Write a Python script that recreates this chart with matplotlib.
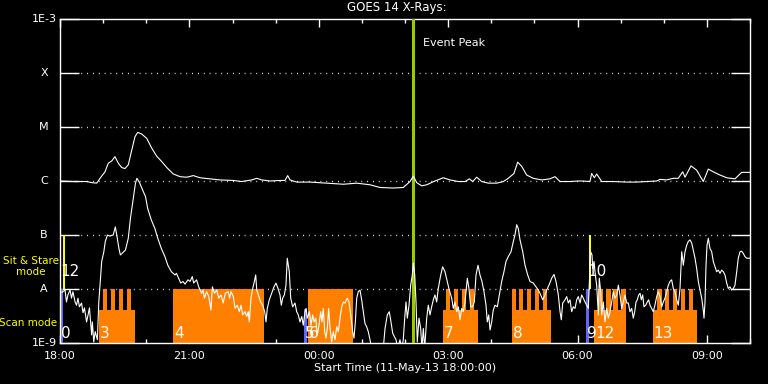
import numpy as np
import matplotlib
matplotlib.use("Agg")
import matplotlib.pyplot as plt
import matplotlib.transforms as mtransforms

# time in minutes after 11-May-13 18:00, flux as log10(W/m^2)
long_t = [0, 18.5, 37.1, 44.1, 51.1, 55.7, 62.6, 67.2, 71.9, 76.5,
          81.1, 85.8, 90.4, 95, 99.8, 104.3, 108.1, 113.7, 120.6, 127.6,
          134.5, 141.5, 148.5, 157.6, 167, 176.3, 185.5, 194.8, 208.7, 222.6,
          241.1, 252.8, 266.7, 273.7, 280.6, 292.2, 306.1, 313, 316.8, 320,
          329.3, 347.8, 371.1, 394.2, 412.8, 431.3, 445.2, 463.7, 477.6, 487,
          491.6, 496.3, 503.2, 510.2, 521.7, 533.3, 542.6, 554.2, 563.5, 569.5,
          574.2, 579.8, 586.7, 595.9, 607.6, 616.8, 623.7, 631.6, 636.8, 642.4,
          649.3, 658.5, 670.2, 681.7, 688.7, 695.7, 709.6, 721.1, 725.8, 737.4,
          739.7, 743.4, 746.7, 753.7, 769.8, 788.5, 802.3, 816.3, 830.2, 834.8,
          844.1, 853.3, 860.2, 866.3, 869.6, 877.9, 885.8, 895, 902, 908.9,
          918.3, 927.6, 939.1, 948.4, 960]
long_f = [-6.00, -6.01, -6.01, -6.03, -6.04, -5.95, -5.83, -5.67, -5.63, -5.55,
          -5.67, -5.75, -5.77, -5.70, -5.43, -5.18, -5.10, -5.13, -5.21, -5.39,
          -5.54, -5.64, -5.75, -5.87, -5.92, -5.93, -5.90, -5.94, -5.96, -5.98,
          -5.99, -6.01, -5.98, -5.95, -5.98, -6.00, -5.99, -5.99, -5.90, -5.98,
          -6.02, -6.02, -6.04, -6.06, -6.04, -6.07, -6.12, -6.13, -6.12, -6.01,
          -5.91, -6.03, -6.09, -6.07, -6.00, -5.94, -5.98, -6.01, -6.01, -5.96,
          -6.01, -5.93, -6.01, -6.04, -6.04, -6.01, -5.95, -5.86, -5.65, -5.73,
          -5.89, -5.95, -5.98, -5.96, -5.92, -6.01, -6.01, -6.00, -6.00, -6.01,
          -5.86, -5.94, -5.87, -6.01, -6.01, -6.02, -6.02, -6.01, -6.00, -5.97,
          -5.98, -5.95, -5.95, -5.83, -5.93, -5.72, -5.80, -6.01, -5.78, -5.83,
          -5.89, -5.94, -5.96, -5.84, -5.84]

short_t = [3, 7, 9, 11, 14, 16, 18, 21, 23, 25,
           27, 30, 32, 34, 37, 39, 41, 44, 45, 47,
           49, 52, 54, 56, 58, 61, 63, 66, 69, 74,
           77, 79, 82, 84, 88, 91, 95, 98, 102, 105,
           107, 111, 116, 119, 122, 127, 132, 136, 141, 146,
           150, 155, 160, 162, 165, 168, 171, 174, 178, 181,
           184, 186, 190, 193, 197, 199, 201, 204, 207, 210,
           212, 215, 218, 221, 224, 227, 230, 234, 236, 238,
           241.1, 243.5, 246.7, 249.5, 251.8, 254.2, 257.4, 259.8, 262, 263.4,
           265.7, 268.1, 269.9, 272.3, 273.7, 275.9, 279.2, 282, 284.8, 286.6,
           288.4, 291.2, 294.5, 297.7, 300.5, 303.3, 306.1, 307.9, 309.8, 312.1,
           314.4, 316.2, 317.6, 319, 321, 323.7, 327, 329.3, 331.5, 333.9,
           336.3, 338.5, 340.9, 342.3, 344.1, 346.9, 349.2, 351.6, 353.4, 355.8,
           358, 360.3, 362.7, 364.5, 366.3, 368.3, 370.1, 371.9, 373.8, 375.7,
           378, 380.2, 382.6, 385, 387.2, 389.6, 391.9, 394.2, 396.5, 399.7,
           402.1, 404.5, 407.2, 409, 410.9, 412.8, 415, 417.4, 419.7, 422,
           424.3, 426.7, 428.9, 431.3, 433.7, 449.8, 452.2, 455.4, 458.1, 460.5,
           462.9, 465.1, 467.5, 469.8, 473, 475.4, 477.6, 479.6, 481.4, 483.2,
           485.6, 487.9, 490.2, 491.6, 493.5, 495.3, 497.1, 499.5, 501.8, 503.6,
           505.5, 507.4, 510.2, 512.4, 514.8, 517.1, 519.4, 521.7, 524.1, 526.3,
           529.7, 532.4, 535.6, 538.8, 541.6, 545, 547.2, 549.6, 551.9, 554.2,
           556.5, 558.9, 561.1, 563.5, 566.7, 569, 571.4, 574.2, 576.4, 578.8,
           581.6, 584.3, 587.1, 589.9, 592.7, 594.5, 596.5, 598.3, 600.6, 602.8,
           605.2, 608.4, 611.2, 614.5, 617.7, 620.5, 623.7, 627.5, 630.7, 633,
           635.4, 637.6, 640, 643.8, 647, 650.7, 653.9, 658.5, 662.3, 665.5,
           668.8, 671.6, 674.8, 677.1, 680.3, 684.1, 687.3, 690.1, 693.3, 695.7,
           697.5, 699.4, 702.6, 705, 707.2, 709.6, 711.9, 714.2, 716.5, 718.9,
           721.1, 723.5, 725.8, 728.1, 730.4, 732.8, 735, 736.4, 738.3, 740.2,
           741.2, 743, 744.8, 746.7, 749, 750.3, 752.3, 753.7, 755.9, 758.3,
           760.6, 762.9, 765.2, 767.6, 769.8, 772.2, 774.6, 776.8, 779.1, 781.5,
           783.7, 786.1, 788.5, 790.7, 793, 795.4, 797.6, 799.6, 801.4, 803.2,
           805.1, 807, 808.8, 810.7, 812.5, 814.9, 817.1, 819, 820.8, 823.2,
           825.4, 827.7, 830.2, 832.4, 834.8, 837.1, 839.4, 841.7, 844.1, 846.3,
           848.7, 851, 853.3, 855.6, 858, 860.2, 862.6, 865, 867.2, 869.6,
           871.9, 874.1, 876.5, 878.9, 881.1, 883.5, 885.8, 888.1, 890.4, 892.8,
           895, 896, 897.4, 898.8, 900.2, 902, 904.3, 906.7, 908.9, 911.3,
           913.6, 915.9, 918.3, 920.6, 922.9, 925.2, 927.6, 929.8, 932.2, 934.5,
           936.8, 939.1, 941.5, 943.7, 946.1, 948.4, 950.6, 953, 955.4, 960]
short_f = [-8.06, -8.02, -8.24, -8.11, -8.02, -8.17, -8.05, -8.24, -8.30, -8.17,
           -8.33, -8.26, -8.44, -8.35, -8.61, -8.48, -8.35, -8.85, -8.61, -8.98,
           -8.79, -8.94, -8.24, -7.86, -7.49, -7.31, -7.12, -7.00, -7.02, -7.00,
           -6.85, -7.00, -7.25, -7.37, -7.32, -7.28, -7.06, -6.69, -6.32, -6.04,
           -5.95, -6.04, -6.20, -6.29, -6.51, -6.72, -6.88, -7.06, -7.25, -7.40,
           -7.56, -7.68, -7.74, -7.71, -7.80, -7.89, -7.86, -7.91, -7.83, -7.86,
           -7.77, -7.89, -7.83, -7.96, -8.08, -8.02, -8.17, -8.05, -8.14, -8.39,
           -7.96, -8.08, -8.02, -8.17, -8.11, -8.26, -8.08, -8.05, -8.17, -8.05,
           -8.14, -8.36, -8.30, -8.42, -8.30, -8.48, -8.42, -8.51, -8.42, -8.61,
           -8.17, -7.99, -7.89, -7.74, -8.02, -8.11, -8.24, -8.30, -8.42, -8.61,
           -8.36, -8.20, -8.08, -7.96, -7.89, -7.99, -8.11, -8.30, -8.17, -8.11,
           -7.93, -7.43, -7.56, -7.68, -8.17, -8.33, -8.26, -8.42, -8.48, -8.61,
           -8.51, -8.67, -8.42, -8.36, -8.54, -8.42, -8.67, -8.48, -8.61, -8.54,
           -8.85, -8.67, -8.42, -8.61, -8.36, -8.79, -8.91, -8.73, -8.36, -8.73,
           -8.98, -8.79, -8.94, -8.70, -8.79, -8.54, -8.33, -8.24, -8.26, -8.17,
           -8.24, -8.48, -8.79, -8.91, -8.61, -8.17, -8.05, -8.02, -8.20, -8.42,
           -8.64, -8.70, -8.79, -8.94, -9.10, -9.10, -8.73, -8.48, -8.42, -8.61,
           -8.82, -8.88, -8.94, -9.10, -8.94, -9.10, -8.94, -8.54, -8.24, -8.54,
           -8.30, -7.93, -7.74, -7.52, -7.74, -8.24, -8.98, -8.54, -8.73, -9.10,
           -8.73, -9.10, -8.54, -8.30, -8.48, -8.33, -8.20, -8.11, -8.24, -7.99,
           -7.74, -7.59, -7.68, -7.86, -8.02, -8.17, -8.36, -8.24, -8.42, -8.33,
           -8.57, -8.36, -8.42, -8.24, -7.80, -7.99, -8.33, -8.33, -8.24, -7.74,
           -7.56, -7.74, -7.86, -8.05, -8.30, -8.61, -8.48, -8.76, -8.61, -8.39,
           -8.30, -8.33, -8.11, -7.86, -7.68, -7.49, -7.40, -7.31, -7.12, -7.00,
           -6.81, -6.88, -7.09, -7.31, -7.56, -7.74, -7.86, -7.89, -7.96, -8.02,
           -8.11, -8.20, -8.11, -8.02, -7.93, -7.80, -7.73, -7.86, -8.11, -8.42,
           -8.57, -8.26, -8.20, -8.14, -8.26, -8.20, -8.42, -8.33, -8.36, -8.20,
           -8.14, -8.26, -8.11, -8.17, -8.24, -8.30, -8.36, -7.93, -7.31, -7.37,
           -7.62, -7.49, -7.74, -7.93, -8.48, -7.80, -8.05, -8.48, -8.24, -8.61,
           -8.36, -8.54, -8.42, -8.24, -8.05, -8.17, -8.11, -7.93, -8.11, -8.36,
           -8.24, -8.11, -8.26, -8.26, -8.42, -8.36, -8.54, -8.42, -8.24, -8.20,
           -8.11, -8.08, -8.20, -8.11, -8.33, -8.30, -8.24, -8.20, -8.30, -8.36,
           -8.42, -8.30, -8.14, -8.05, -8.14, -8.33, -8.24, -8.17, -8.05, -7.93,
           -7.86, -7.83, -7.99, -8.05, -8.20, -8.30, -7.99, -7.31, -7.56, -7.31,
           -7.19, -7.12, -7.09, -7.15, -7.28, -7.43, -7.62, -7.86, -8.02, -8.17,
           -8.39, -8.54, -8.24, -7.56, -7.19, -7.06, -7.25, -7.31, -7.49, -7.59,
           -7.68, -7.65, -7.71, -7.65, -7.68, -7.74, -7.89, -7.99, -7.96, -8.02,
           -7.99, -7.93, -7.68, -7.43, -7.31, -7.30, -7.34, -7.40, -7.43, -7.43]

# observing events (minutes after 18:00)
event_ids = ['0', '12', '3', '4', '5', '6', '7', '8', '9', '10', '12', '13']
event_kind = ['mark', 'sit', 'raster', 'scan', 'mark_short', 'scan',
              'raster', 'raster', 'mark', 'sit', 'raster', 'raster']
event_start = [0, 4, 54.3, 157.2, 339.5, 345, 532.4, 628.9, 731.8, 736, 743, 824.6]
event_end = [4, 7, 104.3, 283.8, 343.7, 407.7, 581.6, 683.1, 736, 738.8, 787.5, 886.3]

raster_start = [59.8, 71.0, 82.1, 93.2,
                537.0, 548.2, 559.3, 570.4,
                628.9, 639.0, 650.2, 660.9, 671.6,
                748.5, 759.6, 769.8, 780.9,
                831.0, 841.7, 852.4, 863.6, 874.7]
raster_end = [65.4, 76.5, 87.7, 98.8,
              542.6, 553.7, 564.9, 576.0,
              634.4, 644.6, 655.7, 666.4, 677.1,
              755.0, 766.1, 776.3, 787.5,
              837.6, 847.7, 858.8, 870.0, 881.1]

event_peak = 491.0
goes_levels = ['1E-9', 'A', 'B', 'C', 'M', 'X', '1E-3']
hour_labels = ['18:00', '21:00', '00:00', '03:00', '06:00', '09:00']

ORANGE = '#ff8000'
BLUE = '#6464ff'
YELLOW = '#ffff00'
PEAK = '#99cc00'

plt.rcParams['font.family'] = ['DejaVu Sans']
fig = plt.figure(figsize=(7.68, 3.84), dpi=100, facecolor='black')
ax = fig.add_axes([60 / 768, 41 / 384, 690 / 768, 324 / 384], facecolor='black')
ax.set_yscale('log')
ax.set_xlim(0, 16)
ax.set_ylim(1e-9, 1e-3)

lo, base, top, sit_top, mark_short = 1e-9, 10 ** -8.39, 1e-8, 1e-7, 10 ** -8.37

def block(t0, t1, y0, y1, color):
    ax.bar(t0 / 60, y1 - y0, bottom=y0, width=(t1 - t0) / 60, align='edge',
           color=color, linewidth=0, zorder=2)

for lab, kind, t0, t1 in zip(event_ids, event_kind, event_start, event_end):
    if kind == 'mark':
        block(t0, t1, lo, top, BLUE)
    elif kind == 'mark_short':
        block(t0, t1, lo, mark_short, BLUE)
    elif kind == 'sit':
        block(t0, t1, top, sit_top, YELLOW)
    elif kind == 'scan':
        block(t0, t1, lo, top, ORANGE)
    else:
        block(t0, t1, lo, base, ORANGE)

for t0, t1 in zip(raster_start, raster_end):
    block(t0, t1, base, top, ORANGE)

# grid lines (dotted) at each GOES class
for k in range(-8, -3):
    ax.axhline(10.0 ** k, xmin=15 / 690, xmax=675 / 690, color='white',
               lw=1.0, ls=(0, (0.6, 3.6)), zorder=1)

ax.axvline(event_peak / 60, color=PEAK, lw=2.2, zorder=3)
ax.text(event_peak / 60 + 0.23, 10 ** -3.45, 'Event Peak', color='white',
        fontsize=8, va='center', ha='left')

ax.plot(np.array(long_t) / 60, 10 ** np.array(long_f), color='white', lw=0.8, zorder=4)
ax.plot(np.array(short_t) / 60, 10 ** np.array(short_f), color='white', lw=0.8, zorder=4)

# event numbers
for lab, kind, t0 in zip(event_ids, event_kind, event_start):
    if kind == 'sit':
        ax.text(t0 / 60 - 0.05, 10 ** -7.68, lab, color='white', fontsize=11,
                va='center', ha='left', zorder=5)
    else:
        ax.text(t0 / 60 + 0.02, 10 ** -8.82, lab, color='white', fontsize=11,
                va='center', ha='left', zorder=5)

# axes styling
for s in ax.spines.values():
    s.set_color('white')
    s.set_linewidth(1.0)
ax.set_xticks(np.arange(0, 16, 3))
ax.set_xticklabels(hour_labels)
ax.set_xticks(np.arange(0, 17, 1), minor=True)
ax.tick_params(axis='x', which='both', direction='in', top=True, bottom=True,
               colors='white', labelsize=8, pad=6, width=1.0)
ax.tick_params(axis='x', which='major', length=6)
ax.tick_params(axis='x', which='minor', length=3)
ax.set_yticks([10.0 ** k for k in range(-9, -2)])
ax.set_yticklabels([])
ax.yaxis.set_minor_locator(matplotlib.ticker.NullLocator())
ax.tick_params(axis='y', which='major', direction='in', left=True, right=True,
               length=14, width=1.0, colors='white')

trans = mtransforms.blended_transform_factory(ax.transAxes, ax.transData)
for k, lab in zip(range(-9, -2), goes_levels):
    if lab.startswith('1E'):
        ax.text(-0.005, 10.0 ** k, lab, transform=trans, color='white', fontsize=8,
                ha='right', va='center')
    else:
        ax.text(-0.023, 10.0 ** k, lab, transform=trans, color='white', fontsize=8,
                ha='center', va='center')

ax.text(-0.042, 10 ** -7.58, 'Sit & Stare\nmode', transform=trans, color=YELLOW,
        fontsize=7.5, ha='center', va='center', linespacing=1.1)
ax.text(-0.046, 10 ** -8.63, 'Scan mode', transform=trans, color=YELLOW,
        fontsize=7.5, ha='center', va='center')

fig.text(397 / 768, 1 - 8 / 384, 'GOES 14 X-Rays:', color='white', fontsize=8.5,
         ha='center', va='center')
fig.text(405 / 768, 1 - 368 / 384, 'Start Time (11-May-13 18:00:00)', color='white',
         fontsize=8, ha='center', va='center')

fig.savefig('out.png', dpi=100, facecolor='black')
